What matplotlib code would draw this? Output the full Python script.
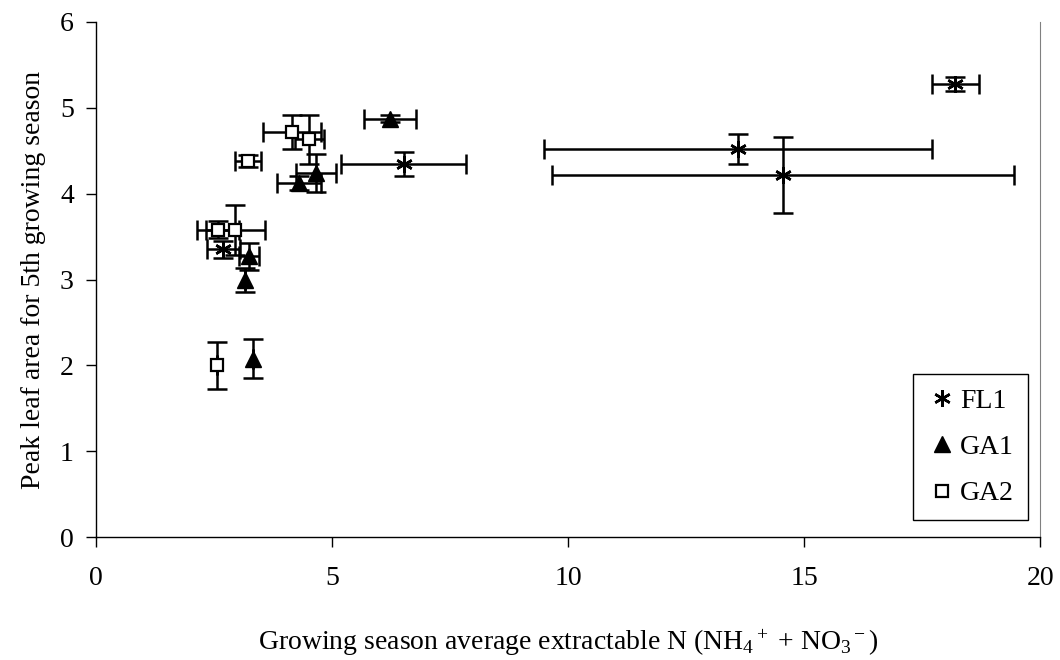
import matplotlib
matplotlib.use('Agg')
import matplotlib.pyplot as plt

plt.rcParams['font.family'] = 'Liberation Serif'
plt.rcParams['mathtext.fontset'] = 'custom'
plt.rcParams['mathtext.rm'] = 'Liberation Serif'
plt.rcParams['mathtext.it'] = 'Liberation Serif:italic'

# FL1
fl1_x = [18.2, 13.6, 14.55, 6.52, 2.7]
fl1_y = [5.28, 4.52, 4.22, 4.35, 3.35]
fl1_xerr = [0.5, 4.1, 4.9, 1.32, 0.35]
fl1_yerr = [0.08, 0.17, 0.44, 0.14, 0.1]

# GA1
ga1_x = [6.22, 4.3, 4.66, 3.24, 3.15, 3.33]
ga1_y = [4.87, 4.12, 4.24, 3.27, 2.99, 2.08]
ga1_xerr = [0.55, 0.47, 0.42, 0.21, 0.0, 0.0]
ga1_yerr = [0.04, 0.08, 0.22, 0.16, 0.14, 0.23]

# GA2
ga2_x = [4.15, 4.52, 3.22, 2.58, 2.95, 2.56]
ga2_y = [4.72, 4.63, 4.38, 3.58, 3.58, 2.0]
ga2_xerr = [0.62, 0.3, 0.28, 0.45, 0.62, 0.0]
ga2_yerr = [0.2, 0.28, 0.07, 0.1, 0.29, 0.27]

fig = plt.figure(figsize=(10.6, 6.6), dpi=100)
ax = fig.add_axes([0.0906, 0.186, 0.8906, 0.781])

eb = dict(fmt='none', ecolor='black', elinewidth=1.8, capsize=7, capthick=1.8)
ax.errorbar(fl1_x, fl1_y, xerr=fl1_xerr, yerr=fl1_yerr, **eb)
ax.errorbar(ga1_x, ga1_y, xerr=ga1_xerr, yerr=ga1_yerr, **eb)
ax.errorbar(ga2_x, ga2_y, xerr=ga2_xerr, yerr=ga2_yerr, **eb)

ax.plot(fl1_x, fl1_y, ls='none', marker=(6, 2, 0), ms=12, mec='black',
        mew=1.8, label='FL1', zorder=5)
ax.plot(ga1_x, ga1_y, ls='none', marker='^', ms=11, color='black',
        label='GA1', zorder=5)
ax.plot(ga2_x, ga2_y, ls='none', marker='s', ms=8, mfc='white', mec='black',
        mew=1.6, label='GA2', zorder=5)

ax.set_xlim(0, 20)
ax.set_ylim(0, 6)
ax.set_xticks([0, 5, 10, 15, 20])
ax.set_yticks([0, 1, 2, 3, 4, 5, 6])
ax.tick_params(direction='out', length=7, width=1, labelsize=20, colors='black')
ax.tick_params(axis='x', pad=14)
ax.tick_params(axis='y', pad=9)
ax.spines['top'].set_visible(False)
ax.spines['right'].set_color('gray')
ax.spines['left'].set_linewidth(1)
ax.spines['bottom'].set_linewidth(1)

ax.set_xlabel(r'Growing season average extractable N ($\mathregular{NH_4{}^+}$ + $\mathregular{NO_3{}^-}$)',
              fontsize=20, labelpad=26)
ax.set_ylabel('Peak leaf area for 5th growing season', fontsize=20, labelpad=10)

leg = ax.legend(loc='lower right', bbox_to_anchor=(0.987, 0.033), fontsize=20,
                frameon=True, fancybox=False, edgecolor='black', framealpha=1,
                handletextpad=0.1, handlelength=1.1, labelspacing=0.75,
                borderpad=0.5, borderaxespad=0)
leg.get_frame().set_linewidth(1)

plt.savefig('out.png', dpi=100)
